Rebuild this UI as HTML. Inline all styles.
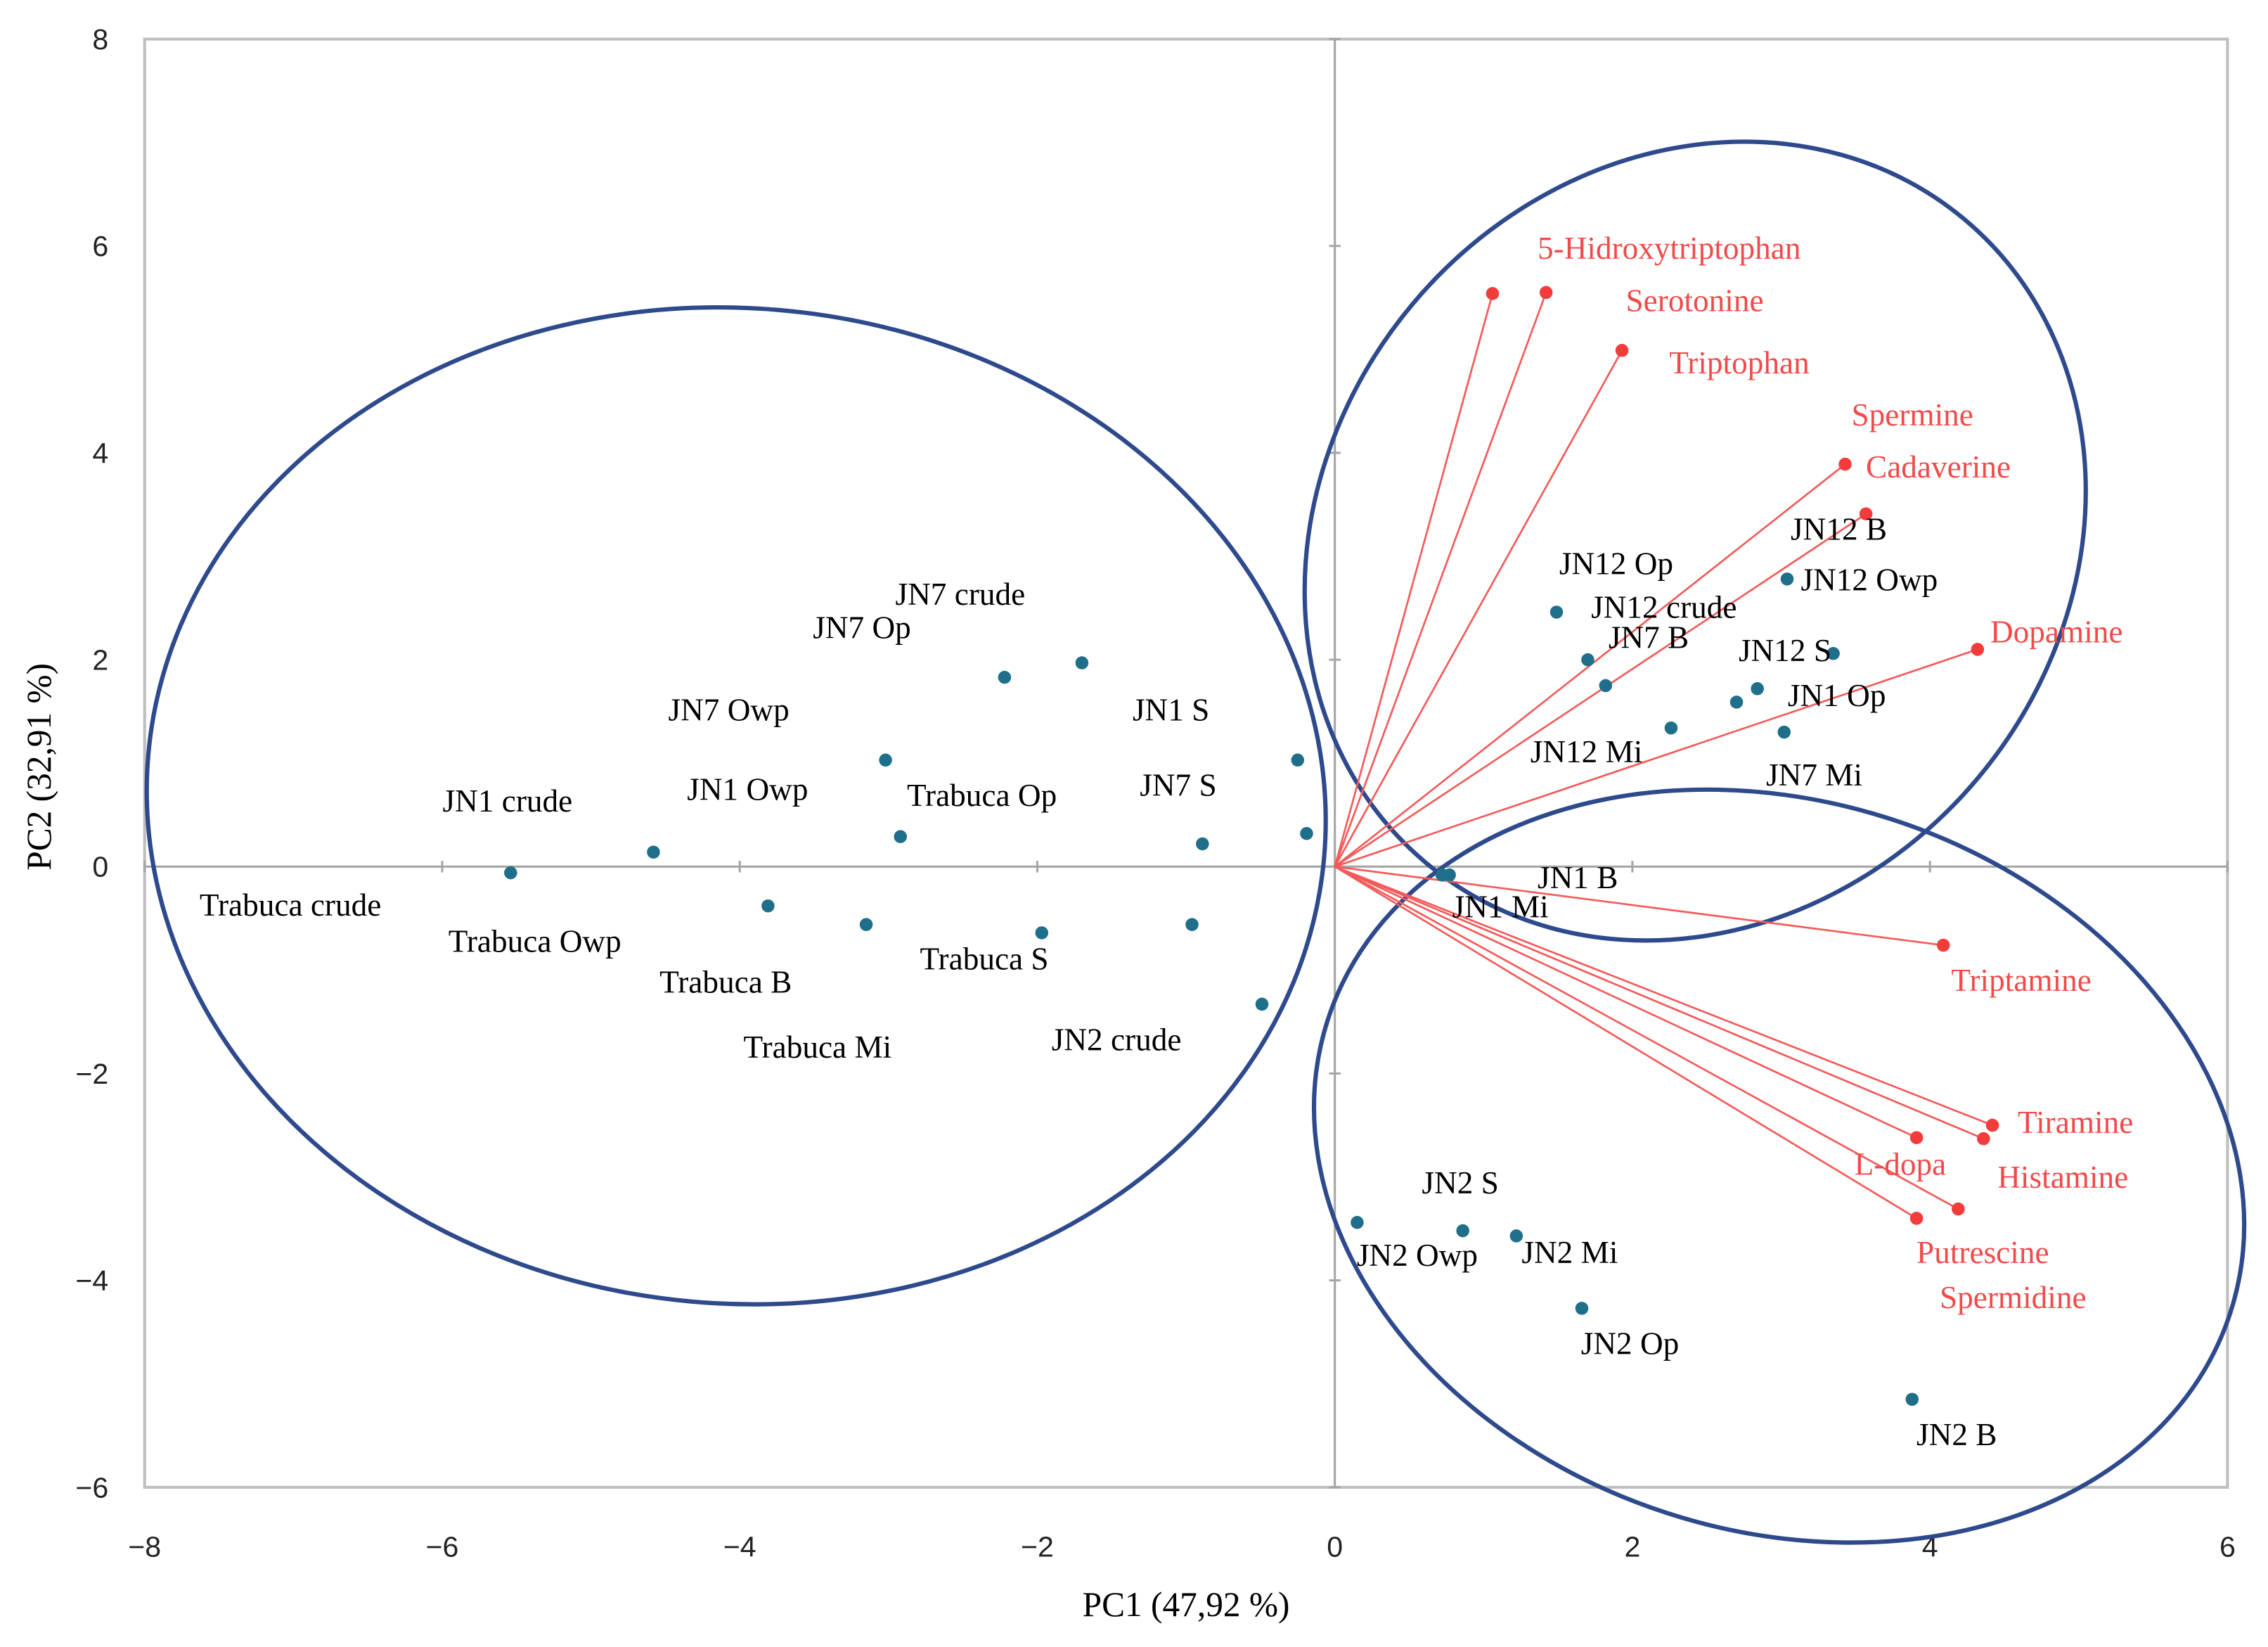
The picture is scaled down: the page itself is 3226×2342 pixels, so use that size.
<!DOCTYPE html>
<html><head><meta charset="utf-8"><style>html,body{margin:0;padding:0;background:#fff}svg{display:block}</style></head>
<body>
<svg id="chart" width="3226" height="2342" viewBox="0 0 1568 1138.4" preserveAspectRatio="none" xmlns="http://www.w3.org/2000/svg">
<rect x="100" y="27" width="1440" height="1001" fill="none" stroke="#bfbfbf" stroke-width="2"/>
<g id="axes"></g>
<g id="ellipses">
<ellipse cx="509" cy="557" rx="408" ry="344" transform="rotate(5 509 557)" fill="none" stroke="#2e4a8c" stroke-width="3"/>
<ellipse cx="1172" cy="374" rx="290" ry="255" transform="rotate(-50 1172 374)" fill="none" stroke="#2e4a8c" stroke-width="3"/>
<ellipse cx="1230" cy="806" rx="328" ry="252" transform="rotate(18 1230 806)" fill="none" stroke="#2e4a8c" stroke-width="3"/>
</g>
<g id="vectors"></g>
<g id="points"></g>
<g id="labels" font-family="'Liberation Serif', serif" font-size="22">
<text x="138" y="633">Trabuca crude</text>
<text x="310" y="658">Trabuca Owp</text>
<text x="456" y="686">Trabuca B</text>
<text x="514" y="731">Trabuca Mi</text>
<text x="636" y="670">Trabuca S</text>
<text x="627" y="557">Trabuca Op</text>
<text x="306" y="561">JN1 crude</text>
<text x="475" y="553">JN1 Owp</text>
<text x="462" y="498">JN7 Owp</text>
<text x="562" y="441">JN7 Op</text>
<text x="619" y="418">JN7 crude</text>
<text x="783" y="498">JN1 S</text>
<text x="788" y="550">JN7 S</text>
<text x="727" y="726">JN2 crude</text>
<text x="1063" y="614">JN1 B</text>
<text x="1004" y="634">JN1 Mi</text>
<text x="983" y="825">JN2 S</text>
<text x="938" y="875">JN2 Owp</text>
<text x="1052" y="873">JN2 Mi</text>
<text x="1093" y="936">JN2 Op</text>
<text x="1325" y="999">JN2 B</text>
<text x="1078" y="397">JN12 Op</text>
<text x="1100" y="427">JN12 crude</text>
<text x="1112" y="448">JN7 B</text>
<text x="1238" y="373">JN12 B</text>
<text x="1245" y="408">JN12 Owp</text>
<text x="1202" y="457">JN12 S</text>
<text x="1236" y="488">JN1 Op</text>
<text x="1058" y="527">JN12 Mi</text>
<text x="1221" y="543">JN7 Mi</text>
<g fill="#f24a4a">
<text x="1063" y="179">5-Hidroxytriptophan</text>
<text x="1124" y="215">Serotonine</text>
<text x="1154" y="258">Triptophan</text>
<text x="1280" y="294">Spermine</text>
<text x="1290" y="330">Cadaverine</text>
<text x="1376" y="444">Dopamine</text>
<text x="1349" y="685">Triptamine</text>
<text x="1395" y="783">Tiramine</text>
<text x="1381" y="821">Histamine</text>
<text x="1282" y="812">L-dopa</text>
<text x="1325" y="873">Putrescine</text>
<text x="1341" y="904">Spermidine</text>
</g>
</g>
<text x="820" y="1117" text-anchor="middle" font-family="'Liberation Serif', serif" font-size="24">PC1 (47,92 %)</text>
<text transform="translate(35 530) rotate(-90)" text-anchor="middle" font-family="'Liberation Serif', serif" font-size="24">PC2 (32,91 %)</text>
</svg>
<script>
const xTicks = [-8,-6,-4,-2,0,2,4,6];
const yTicks = [-6,-4,-2,0,2,4,6,8];
const sampleNames = ["Trabuca crude","Trabuca Owp","Trabuca B","Trabuca Mi","JN1 Owp","Trabuca Op","JN7 Op","Trabuca S","JN7 crude","JN2 crude-a","JN7 S","JN2 crude","JN1 S","JN7 S-b","JN1 Mi","JN1 B","JN2 Owp","JN2 S","JN2 Mi","JN2 Op","JN2 B","JN12 Op","JN12 crude","JN7 B","JN12 Mi","JN12 S","JN1 Op-a","JN12 Owp","JN7 Mi","JN1 Op"];
const sampleX = [-5.54,-4.58,-3.81,-3.15,-3.02,-2.92,-2.22,-1.97,-1.70,-0.96,-0.89,-0.49,-0.25,-0.19,0.72,0.77,0.15,0.86,1.22,1.66,3.88,1.49,1.70,1.82,2.26,2.70,2.84,3.04,3.02,3.35];
const sampleY = [-0.06,0.14,-0.38,-0.56,1.03,0.29,1.83,-0.64,1.97,-0.56,0.22,-1.33,1.03,0.32,-0.08,-0.08,-3.44,-3.52,-3.57,-4.27,-5.15,2.46,2.00,1.75,1.34,1.59,1.72,2.78,1.30,2.06];
const varNames = ["5-Hidroxytriptophan","Serotonine","Triptophan","Spermine","Cadaverine","Dopamine","Triptamine","Tiramine","Histamine","L-dopa","Spermidine","Putrescine"];
const varX = [1.06,1.42,1.93,3.43,3.57,4.32,4.09,4.42,4.36,3.91,4.19,3.91];
const varY = [5.54,5.55,4.99,3.89,3.41,2.10,-0.76,-2.50,-2.63,-2.62,-3.31,-3.40];

const NS = "http://www.w3.org/2000/svg";
const X = v => 100 + (v + 8) * (1440 / 14);
const Y = v => 27 + (8 - v) * (1001 / 14);
function mk(tag, attrs, parent){const e=document.createElementNS(NS,tag);for(const k in attrs)e.setAttribute(k,attrs[k]);parent.appendChild(e);return e;}

const axes = document.getElementById('axes');
let l = mk('line',{x1:X(0),x2:X(0),y1:27,y2:1028,stroke:'#a6a6a6','stroke-width':1.5},axes);


l = mk('line',{x1:100,x2:1540,y1:Y(0),y2:Y(0),stroke:'#a6a6a6','stroke-width':1.5},axes);


xTicks.forEach(t=>{
  const tk = mk('line',{x1:X(t),x2:X(t),y1:Y(0)-4,y2:Y(0)+4,stroke:'#a6a6a6','stroke-width':1.5},axes);
  
  
  const tx = mk('text',{x:X(t),y:1076,'text-anchor':'middle','font-family':"'Liberation Sans', sans-serif",'font-size':20,fill:'#222'},axes);
  tx.textContent = t<0 ? '\u2212'+Math.abs(t) : String(t);
  
  
});
yTicks.forEach(t=>{
  const tk = mk('line',{x1:X(0)-4,x2:X(0)+4,y1:Y(t),y2:Y(t),stroke:'#a6a6a6','stroke-width':1.5},axes);
  
  
  const tx = mk('text',{x:75,y:Y(t)+7,'text-anchor':'end','font-family':"'Liberation Sans', sans-serif",'font-size':20,fill:'#222'},axes);
  tx.textContent = t<0 ? '\u2212'+Math.abs(t) : String(t);
  
  
});

const vg = document.getElementById('vectors');
varNames.forEach((n,i)=>{
  const ln = mk('line',{x1:X(0),y1:Y(0),x2:X(varX[i]),y2:Y(varY[i]),stroke:'#f45a5a','stroke-width':1.3},vg);
  
  
  const c = mk('circle',{cx:X(varX[i]),cy:Y(varY[i]),r:4.5,fill:'#f23c3c'},vg);
  
  
});
const pg = document.getElementById('points');
sampleNames.forEach((n,i)=>{
  const c = mk('circle',{cx:X(sampleX[i]),cy:Y(sampleY[i]),r:4.5,fill:'#1f6f8b'},pg);
  
  
});
document.querySelectorAll('#labels text').forEach(t=>{
  
  
});
</script>
</body></html>
